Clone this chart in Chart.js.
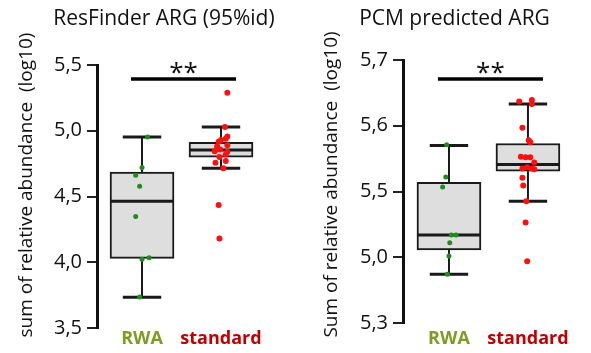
<!DOCTYPE html>
<html>
<head>
<meta charset="utf-8">
<script src="https://cdn.jsdelivr.net/npm/chart.js@4.4.0/dist/chart.umd.min.js"></script>
<style>
  html, body { margin: 0; padding: 0; background: #fff; overflow: hidden; }
  .panel { position: absolute; top: 0; height: 353px; }
  #p1 { left: 0; width: 300px; }
  #p2 { left: 305px; width: 286px; }
</style>
</head>
<body>
<div class="panel" id="p1"><canvas id="chart1"></canvas></div>
<div class="panel" id="p2"><canvas id="chart2"></canvas></div>
<script>
'use strict';

// groups on the x axis
const groups = ['RWA', 'standard'];
const groupColors = ['#7f9c22', '#c00000'];
const pointColors = ['#1f8c1f', '#ff1010'];
const sigSpan = [0.86, 2.19];

// ResFinder ARG (95%id)
const resTicks = [3.5, 4.0, 4.5, 5.0, 5.5];
const resTickLabels = ['3,5', '4,0', '4,5', '5,0', '5,5'];
const resMin = [3.733, 4.715];
const resQ1 = [4.03, 4.80];
const resMed = [4.464, 4.853];
const resQ3 = [4.685, 4.911];
const resMax = [4.952, 5.028];
const resRwa = [4.952, 4.721, 4.662, 4.578, 4.348, 4.022, 4.035, 3.735];
const resRwaJitter = [0.07, 0.0, -0.08, -0.03, -0.08, 0.0, 0.09, -0.03];
const resStd = [5.289, 5.028, 4.957, 4.94, 4.93, 4.916, 4.89, 4.88, 4.857, 4.845, 4.84, 4.82, 4.80, 4.77, 4.756, 4.715, 4.436, 4.18];
const resStdJitter = [0.08, 0.05, 0.08, 0.06, 0.0, -0.03, 0.08, -0.05, -0.01, -0.08, 0.08, 0.06, -0.02, 0.06, -0.07, 0.03, -0.03, -0.02];
const resSig = 5.393;

// PCM predicted ARG
const pcmTicks = [5.3, 5.4, 5.5, 5.6, 5.7];
const pcmTickLabels = ['5,3', '5,0', '5,5', '5,6', '5,7'];
const pcmMin = [5.374, 5.485];
const pcmQ1 = [5.411, 5.531];
const pcmMed = [5.434, 5.541];
const pcmQ3 = [5.514, 5.573];
const pcmMax = [5.570, 5.633];
const pcmRwa = [5.571, 5.522, 5.507, 5.434, 5.434, 5.422, 5.402, 5.374];
const pcmRwaJitter = [-0.03, -0.04, -0.08, 0.03, 0.09, 0.01, 0.0, -0.02];
const pcmStd = [5.637, 5.639, 5.633, 5.597, 5.578, 5.575, 5.553, 5.552, 5.552, 5.544, 5.537, 5.535, 5.535, 5.534, 5.521, 5.509, 5.485, 5.453, 5.394];
const pcmStdJitter = [-0.11, 0.05, 0.05, -0.07, 0.01, 0.03, -0.09, -0.03, 0.03, 0.08, -0.01, -0.07, 0.05, 0.08, -0.07, -0.06, -0.02, -0.03, -0.01];
const pcmSig = 5.671;

const FONT = '"Open Sans", "DejaVu Sans", sans-serif';

function line(ctx, x1, y1, x2, y2) {
  ctx.beginPath();
  ctx.moveTo(x1, y1);
  ctx.lineTo(x2, y2);
  ctx.stroke();
}

// whiskers, medians, titles and the ** mark
const boxExtras = {
  id: 'boxExtras',
  afterDatasetDraw(chart, args, opts) {
    if (args.index !== 0) return;
    const ctx = chart.ctx;
    const y = chart.scales.y;
    ctx.save();
    ctx.strokeStyle = '#1a1a1a';
    args.meta.data.forEach((bar, i) => {
      const half = bar.width / 2;
      const cap = bar.width * 0.3;
      const yMin = y.getPixelForValue(opts.min[i]);
      const yMax = y.getPixelForValue(opts.max[i]);
      const yQ1 = y.getPixelForValue(opts.q1[i]);
      const yQ3 = y.getPixelForValue(opts.q3[i]);
      const yMed = y.getPixelForValue(opts.med[i]);
      ctx.lineWidth = 2;
      line(ctx, bar.x, yQ3, bar.x, yMax);
      line(ctx, bar.x, yQ1, bar.x, yMin);
      ctx.lineWidth = 3;
      line(ctx, bar.x - cap, yMax, bar.x + cap, yMax);
      line(ctx, bar.x - cap, yMin, bar.x + cap, yMin);
      line(ctx, bar.x - half, yMed, bar.x + half, yMed);
    });
    ctx.restore();
  },
  afterDraw(chart, args, opts) {
    const ctx = chart.ctx;
    const area = chart.chartArea;
    ctx.save();
    ctx.fillStyle = '#111';
    ctx.textAlign = 'center';
    ctx.textBaseline = 'middle';
    ctx.font = '21px ' + FONT;
    ctx.fillText(opts.title, area.left + opts.titleDx, 19);

    ctx.save();
    ctx.font = '19px ' + FONT;
    ctx.translate(27, opts.yTitleY);
    ctx.rotate(-Math.PI / 2);
    ctx.fillText(opts.yTitle, 0, 0);
    ctx.restore();

    const sx = chart.scales.x.getPixelForValue((sigSpan[0] + sigSpan[1]) / 2);
    const sy = chart.scales.y.getPixelForValue(opts.sig);
    ctx.font = '26px ' + FONT;
    ctx.textBaseline = 'alphabetic';
    ctx.fillText('**', sx, sy + 2);
    ctx.restore();
  }
};

function makePanel(id, p) {
  const boxData = groups.map((g, i) => ({ x: i + 1, y: [p.q1[i], p.q3[i]] }));
  const rwaPts = p.rwa.map((v, i) => ({ x: 1 + p.rwaJit[i], y: v }));
  const stdPts = p.std.map((v, i) => ({ x: 2 + p.stdJit[i], y: v }));

  return new Chart(document.getElementById(id), {
    type: 'bar',
    data: {
      datasets: [
        {
          type: 'bar',
          data: boxData,
          backgroundColor: '#dedede',
          borderColor: '#1a1a1a',
          borderWidth: 2,
          borderSkipped: false,
          barThickness: 64,
          order: 3
        },
        {
          type: 'line',
          data: [{ x: sigSpan[0], y: p.sig }, { x: sigSpan[1], y: p.sig }],
          borderColor: '#000',
          borderWidth: 3.5,
          pointRadius: 0,
          order: 2
        },
        {
          type: 'scatter',
          data: rwaPts,
          backgroundColor: pointColors[0],
          borderWidth: 0,
          pointRadius: 2.5,
          order: 1
        },
        {
          type: 'scatter',
          data: stdPts,
          backgroundColor: pointColors[1],
          borderWidth: 0,
          pointRadius: 3,
          order: 1
        }
      ]
    },
    options: {
      responsive: true,
      maintainAspectRatio: false,
      animation: false,
      layout: { padding: { left: 5, right: p.padRight, top: p.padTop, bottom: 0 } },
      plugins: {
        legend: { display: false },
        tooltip: { enabled: false },
        boxExtras: {
          min: p.min, q1: p.q1, med: p.med, q3: p.q3, max: p.max,
          sig: p.sig, title: p.title, titleDx: p.titleDx,
          yTitle: p.yTitle, yTitleY: p.yTitleY
        }
      },
      scales: {
        x: {
          type: 'linear',
          offset: false,
          min: p.xMin,
          max: p.xMax,
          afterBuildTicks: s => { s.ticks = [{ value: 1 }, { value: 2 }]; },
          afterFit: s => { s.height = p.xHeight; },
          grid: { display: false, drawTicks: false },
          border: { display: false },
          ticks: {
            autoSkip: false,
            maxRotation: 0,
            padding: p.xPad,
            callback: (v, i) => groups[i],
            color: c => groupColors[c.index],
            font: { family: FONT, size: 18, weight: 'bold' }
          }
        },
        y: {
          min: p.ticks[0],
          max: p.ticks[p.ticks.length - 1],
          afterBuildTicks: s => { s.ticks = p.ticks.map(v => ({ value: v })); },
          afterFit: s => { s.width = p.yWidth; },
          grid: { drawOnChartArea: false, drawTicks: true, tickLength: 10, color: '#222', lineWidth: 2 },
          border: { display: true, color: '#111', width: 3 },
          ticks: {
            padding: 5,
            callback: (v, i) => p.tickLabels[i],
            color: '#111',
            font: { family: FONT, size: 20 }
          }
        }
      }
    },
    plugins: [boxExtras]
  });
}

makePanel('chart1', {
  title: 'ResFinder ARG (95%id)', titleDx: 67,
  yTitle: 'sum of relative abundance  (log10)', yTitleY: 185,
  ticks: resTicks, tickLabels: resTickLabels,
  min: resMin, q1: resQ1, med: resMed, q3: resQ3, max: resMax,
  rwa: resRwa, rwaJit: resRwaJitter, std: resStd, stdJit: resStdJitter, sig: resSig,
  padTop: 65, padRight: 35, xHeight: 25, xPad: 0, yWidth: 92,
  xMin: 0.43, xMax: 2.557
});

makePanel('chart2', {
  title: 'PCM predicted ARG', titleDx: 51.5,
  yTitle: 'Sum of relative abundance  (log10)', yTitleY: 184.5,
  ticks: pcmTicks, tickLabels: pcmTickLabels,
  min: pcmMin, q1: pcmQ1, med: pcmMed, q3: pcmQ3, max: pcmMax,
  rwa: pcmRwa, rwaJit: pcmRwaJitter, std: pcmStd, stdJit: pcmStdJitter, sig: pcmSig,
  padTop: 60, padRight: 20, xHeight: 30, xPad: 5, yWidth: 93,
  xMin: 0.418, xMax: 2.545
});
</script>
</body>
</html>
